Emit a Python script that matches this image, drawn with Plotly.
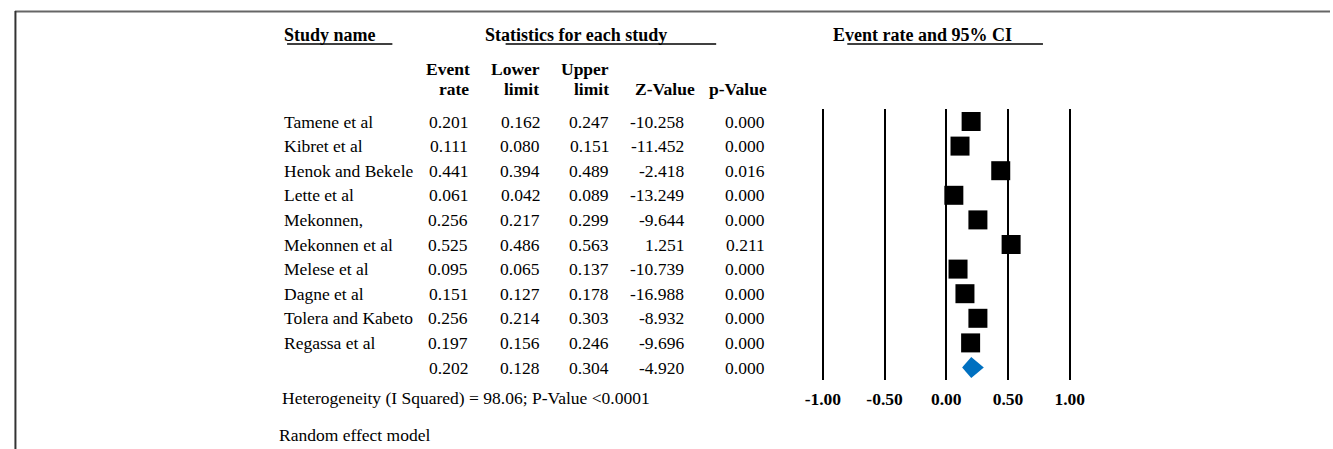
import plotly.graph_objects as go

# ---- data ----
studies = ["Tamene et al", "Kibret et al", "Henok and Bekele", "Lette et al", "Mekonnen,",
           "Mekonnen et al", "Melese et al", "Dagne et al", "Tolera and Kabeto", "Regassa et al"]
event_rate = [0.201, 0.111, 0.441, 0.061, 0.256, 0.525, 0.095, 0.151, 0.256, 0.197]
lower_limit = [0.162, 0.080, 0.394, 0.042, 0.217, 0.486, 0.065, 0.127, 0.214, 0.156]
upper_limit = [0.247, 0.151, 0.489, 0.089, 0.299, 0.563, 0.137, 0.178, 0.303, 0.246]
z_value = [-10.258, -11.452, -2.418, -13.249, -9.644, 1.251, -10.739, -16.988, -8.932, -9.696]
p_value = [0.000, 0.000, 0.016, 0.000, 0.000, 0.211, 0.000, 0.000, 0.000, 0.000]

pooled_rate = 0.202
pooled_lower = 0.128
pooled_upper = 0.304
pooled_z = -4.920
pooled_p = 0.000

tick_vals = [-1.0, -0.5, 0.0, 0.5, 1.0]
tick_text = ["-1.00", "-0.50", "0.00", "0.50", "1.00"]

heterogeneity_note = "Heterogeneity (I Squared) = 98.06; P-Value <0.0001"
model_note = "Random effect model"

# ---- page geometry ----
W, H = 1333, 449
FONT = "Liberation Serif, Times New Roman, serif"
FS = 17.5
FS_BOLD = 18
PAD_L = 5   # annotation inner padding on left-anchored text
PAD_R = 0   # annotation inner padding on right-anchored text


def px(x):
    return x / W


def py(y):
    return 1 - y / H


rows = list(range(len(studies)))
pooled_row = len(studies)

fig = go.Figure()

# study squares with their confidence intervals
fig.add_trace(go.Scatter(
    x=event_rate, y=rows, mode="markers",
    marker=dict(symbol="square", size=19, color="black"),
    error_x=dict(type="data", symmetric=False,
                 array=[u - r for u, r in zip(upper_limit, event_rate)],
                 arrayminus=[r - l for r, l in zip(event_rate, lower_limit)],
                 color="black", thickness=1.5, width=0),
    cliponaxis=False, showlegend=False, hoverinfo="x+y",
))

# pooled estimate diamond
half_h = 0.43
fig.add_trace(go.Scatter(
    x=[pooled_lower, pooled_rate, pooled_upper, pooled_rate, pooled_lower],
    y=[pooled_row, pooled_row - half_h, pooled_row, pooled_row + half_h, pooled_row],
    mode="lines", fill="toself", fillcolor="#0070C0",
    line=dict(width=0, color="#0070C0"),
    cliponaxis=False, showlegend=False, hoverinfo="skip",
))

annotations = []


def add_text(text, x_px, y, yref="y", xanchor="right", bold=False, size=None):
    x_px = x_px - PAD_L if xanchor == "left" else x_px + PAD_R
    annotations.append(dict(
        text=text, x=px(x_px), y=y, xref="paper", yref=yref,
        xanchor=xanchor, yanchor="middle", showarrow=False,
        font=dict(family=FONT, size=size or (FS_BOLD if bold else FS), color="black",
                  weight="bold" if bold else "normal"),
    ))


# column right edges (px)
col_event, col_lower, col_upper, col_z, col_p = 467, 540, 609, 685, 766
name_left = 283

for i, name in enumerate(studies):
    add_text(name, name_left, i, xanchor="left")
    add_text(f"{event_rate[i]:.3f}", col_event, i)
    add_text(f"{lower_limit[i]:.3f}", col_lower, i)
    add_text(f"{upper_limit[i]:.3f}", col_upper, i)
    add_text(f"{z_value[i]:.3f}", col_z, i)
    add_text(f"{p_value[i]:.3f}", col_p, i)

add_text(f"{pooled_rate:.3f}", col_event, pooled_row)
add_text(f"{pooled_lower:.3f}", col_lower, pooled_row)
add_text(f"{pooled_upper:.3f}", col_upper, pooled_row)
add_text(f"{pooled_z:.3f}", col_z, pooled_row)
add_text(f"{pooled_p:.3f}", col_p, pooled_row)

# headers
add_text("Study name", 283, py(35), yref="paper", xanchor="left", bold=True)
add_text("Statistics for each study", 485, py(35), yref="paper", xanchor="left", bold=True)
add_text("Event rate and 95% CI", 836, py(35), yref="paper", xanchor="left", bold=True)

head1_y, head2_y = py(69), py(89)
add_text("Event", 469, head1_y, yref="paper", bold=True, size=FS)
add_text("rate", 468, head2_y, yref="paper", bold=True, size=FS)
add_text("Lower", 540, head1_y, yref="paper", bold=True, size=FS)
add_text("limit", 539, head2_y, yref="paper", bold=True, size=FS)
add_text("Upper", 609, head1_y, yref="paper", bold=True, size=FS)
add_text("limit", 609, head2_y, yref="paper", bold=True, size=FS)
add_text("Z-Value", 696, head2_y, yref="paper", bold=True, size=FS)
add_text("p-Value", 768, head2_y, yref="paper", bold=True, size=FS)

add_text(heterogeneity_note, 281, py(398), yref="paper", xanchor="left")
add_text(model_note, 278, py(435), yref="paper", xanchor="left")

shapes = [
    # header underlines
    dict(type="line", xref="paper", yref="paper", x0=px(283), x1=px(389), y0=py(44), y1=py(44),
         line=dict(color="black", width=1.5)),
    dict(type="line", xref="paper", yref="paper", x0=px(503), x1=px(715), y0=py(44), y1=py(44),
         line=dict(color="black", width=1.5)),
    dict(type="line", xref="paper", yref="paper", x0=px(847), x1=px(1044), y0=py(44), y1=py(44),
         line=dict(color="black", width=1.5)),
    # outer frame
    dict(type="line", xref="paper", yref="paper", x0=px(9), x1=1, y0=py(11.5), y1=py(11.5),
         line=dict(color="#666666", width=2)),
    dict(type="line", xref="paper", yref="paper", x0=px(9.5), x1=px(9.5), y0=py(11), y1=0,
         line=dict(color="#333333", width=2)),
]

fig.update_layout(
    width=W, height=H,
    margin=dict(l=0, r=0, t=0, b=0),
    paper_bgcolor="white", plot_bgcolor="white",
    annotations=annotations, shapes=shapes,
    xaxis=dict(domain=[px(810), px(1083.4)], range=[-1.1, 1.1],
               tickvals=tick_vals, ticktext=tick_text,
               showgrid=True, gridcolor="black", gridwidth=2,
               zeroline=False, showline=False, ticks="",
               ticklabelstandoff=6,
               tickfont=dict(family=FONT, size=FS, color="black", weight="bold")),
    yaxis=dict(domain=[py(380), py(109)], range=[pooled_row + 0.508, -0.508],
               visible=False, showgrid=False, zeroline=False),
    showlegend=False,
)

fig.write_html("out.html")
